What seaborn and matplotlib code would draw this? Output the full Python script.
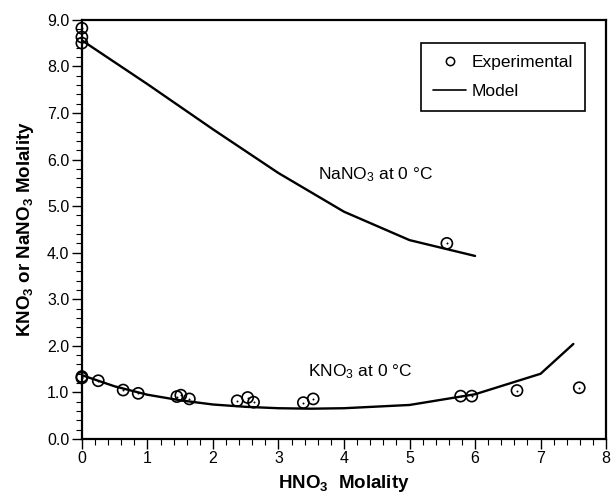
import matplotlib
matplotlib.use("Agg")
import matplotlib.pyplot as plt
from matplotlib.lines import Line2D
from matplotlib.ticker import MultipleLocator, FormatStrFormatter
import seaborn as sns
import pandas as pd

# NaNO3 solubility at 0 °C vs HNO3 molality
na_exp_x = [0.0, 0.0, 0.0, 5.57]
na_exp_y = [8.82, 8.63, 8.50, 4.20]
na_mod_x = [0, 1, 2, 3, 4, 5, 6]
na_mod_y = [8.56, 7.62, 6.65, 5.71, 4.88, 4.27, 3.93]

# KNO3 solubility at 0 °C vs HNO3 molality
k_exp_x = [0.0, 0.0, 0.25, 0.63, 0.86, 1.45, 1.51, 1.64, 2.37, 2.53, 2.62,
           3.38, 3.53, 5.78, 5.95, 6.64, 7.59]
k_exp_y = [1.34, 1.31, 1.25, 1.05, 0.98, 0.91, 0.94, 0.86, 0.82, 0.89, 0.79,
           0.78, 0.86, 0.92, 0.92, 1.04, 1.10]
k_mod_x = [0, 0.5, 1, 1.5, 2, 2.5, 3, 3.5, 4, 5, 6, 7, 7.5]
k_mod_y = [1.37, 1.13, 0.95, 0.83, 0.74, 0.69, 0.66, 0.65, 0.66, 0.73, 0.96, 1.40, 2.04]

x_ticks = [0, 1, 2, 3, 4, 5, 6, 7, 8]

sns.set_style("ticks")
plt.rcParams["font.family"] = ["Liberation Sans", "DejaVu Sans"]
plt.rcParams["mathtext.fontset"] = "custom"
plt.rcParams["mathtext.rm"] = "Liberation Sans"
plt.rcParams["mathtext.it"] = "Liberation Sans:italic"
plt.rcParams["mathtext.bf"] = "Liberation Sans:bold"
plt.rcParams["text.color"] = "black"
plt.rcParams["axes.labelcolor"] = "black"
plt.rcParams["xtick.color"] = "black"
plt.rcParams["ytick.color"] = "black"

fig = plt.figure(figsize=(6.11, 4.96), dpi=100)
ax = fig.add_axes([0.134, 0.115, 0.858, 0.845])

exp_df = pd.DataFrame({"x": na_exp_x + k_exp_x, "y": na_exp_y + k_exp_y})
na_df = pd.DataFrame({"x": na_mod_x, "y": na_mod_y})
k_df = pd.DataFrame({"x": k_mod_x, "y": k_mod_y})

sns.lineplot(data=na_df, x="x", y="y", ax=ax, color="black", lw=1.7,
             sort=False, estimator=None)
sns.lineplot(data=k_df, x="x", y="y", ax=ax, color="black", lw=1.7,
             sort=False, estimator=None)
sns.scatterplot(data=exp_df, x="x", y="y", ax=ax, marker="o", s=64,
                facecolor="none", edgecolor="black", linewidth=1.2, zorder=5,
                clip_on=False)
sns.scatterplot(data=exp_df, x="x", y="y", ax=ax, marker="o", s=2,
                color="black", linewidth=0, zorder=6, clip_on=False)

ax.set_xlim(0, 8)
ax.set_ylim(0, 9)
ax.set_xticks(x_ticks)
ax.xaxis.set_minor_locator(MultipleLocator(0.2))
ax.yaxis.set_major_locator(MultipleLocator(1.0))
ax.yaxis.set_minor_locator(MultipleLocator(0.2))
ax.yaxis.set_major_formatter(FormatStrFormatter("%.1f"))
ax.tick_params(which="major", direction="out", length=7, width=1.0,
               labelsize=11.5, pad=2)
ax.tick_params(which="minor", direction="out", length=4, width=0.8)
for sp in ax.spines.values():
    sp.set_linewidth(1.6)
    sp.set_color("black")

ax.set_xlabel(r"HNO$_\mathbf{3}$  Molality", fontsize=13.5, fontweight="bold",
              labelpad=5)
ax.set_ylabel(r"KNO$_\mathbf{3}$ or NaNO$_\mathbf{3}$ Molality", fontsize=13.5,
              fontweight="bold", labelpad=8)

ax.text(3.6, 5.67, r"NaNO$_3$ at 0 °C", fontsize=12.5, va="center", ha="left")
ax.text(3.45, 1.45, r"KNO$_3$ at 0 °C", fontsize=12.5, va="center", ha="left")

handles = [
    Line2D([], [], marker="o", ls="none", mfc="none", mec="black", ms=6,
           mew=1.1, label="Experimental"),
    Line2D([], [], color="black", lw=1.2, label="Model"),
]
leg = ax.legend(handles=handles, loc="upper right", bbox_to_anchor=(0.96, 0.945),
                borderaxespad=0, fontsize=12.5, frameon=True, fancybox=False,
                edgecolor="black", handlelength=1.9, handletextpad=0.3,
                borderpad=0.7, labelspacing=0.8)
leg.get_frame().set_linewidth(1.2)
leg.get_frame().set_alpha(1)

fig.savefig("out.png", dpi=100)
